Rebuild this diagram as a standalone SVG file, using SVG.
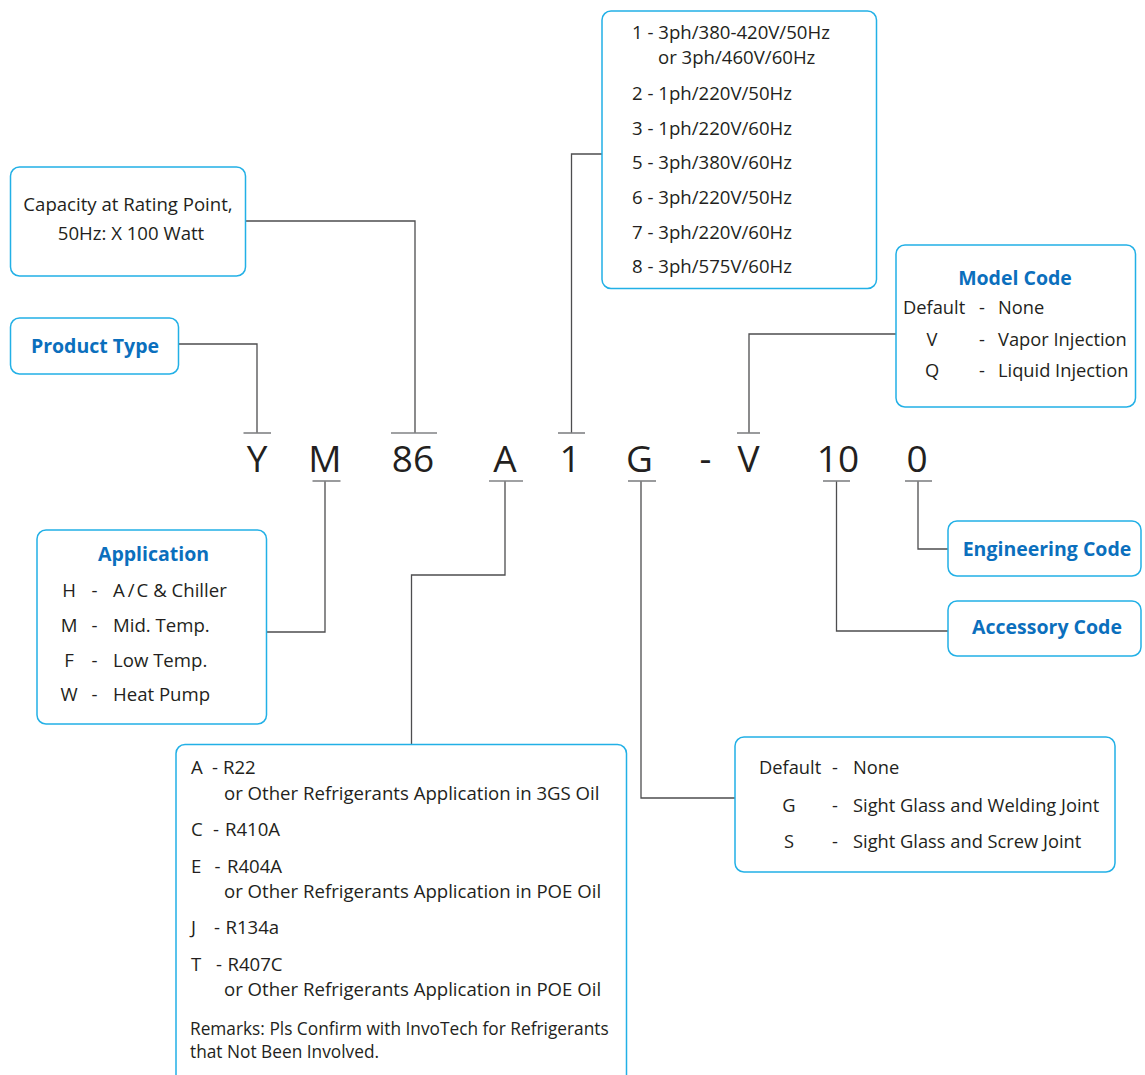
<svg xmlns="http://www.w3.org/2000/svg" width="1145" height="1075" viewBox="0 0 1145 1075">
<style>
.box{fill:#fff;stroke:#22b0e6;stroke-width:1.5}
.t{font-family:"Open Sans","Noto Sans",sans-serif;font-size:18.6px;fill:#231f20}
.n{font-size:18.3px}
.s{font-family:"Open Sans","Noto Sans",sans-serif;font-size:17.3px;fill:#231f20}
.h{font-family:"Open Sans","Noto Sans",sans-serif;font-size:19.5px;font-weight:bold;fill:#0b6fbd}
.m{text-anchor:middle}
.code{font-family:"Open Sans","Noto Sans",sans-serif;font-size:37px;fill:#231f20;text-anchor:middle}
.ln{fill:none;stroke:#4d4d4f;stroke-width:1.3}
.tk{fill:none;stroke:#808285;stroke-width:1.6}
</style>
<rect width="1145" height="1075" fill="#fff"/>
<g id="connectors">
<path class="ln" d="M245,221 H415 V433"/><path class="tk" d="M391,433 H437"/>
<path class="ln" d="M178,344 H257 V433"/><path class="tk" d="M243.5,433 H271"/>
<path class="ln" d="M602,154 H571.5 V433"/><path class="tk" d="M558,433 H585"/>
<path class="ln" d="M896,334 H749 V433"/><path class="tk" d="M737,433 H760"/>
<path class="ln" d="M267,632 H325 V481"/><path class="tk" d="M312.5,481 H340.5"/>
<path class="ln" d="M505,481 V575 H411.5 V744"/><path class="tk" d="M489,481 H523"/>
<path class="ln" d="M641,481 V798 H735"/><path class="tk" d="M628,481 H656"/>
<path class="ln" d="M836.5,481 V631 H948"/><path class="tk" d="M823,481 H850"/>
<path class="ln" d="M918,481 V549 H948"/><path class="tk" d="M905,481 H932"/>
</g>
<g id="model-number">
<text class="code" x="257" y="472">Y</text>
<text class="code" x="325" y="472">M</text>
<text class="code" x="413" y="472">86</text>
<text class="code" x="505" y="472">A</text>
<text class="code" x="570" y="472">1</text>
<text class="code" x="639.5" y="472">G</text>
<text class="code" x="705.5" y="472">-</text>
<text class="code" x="748.5" y="472">V</text>
<text class="code" x="838" y="472">10</text>
<text class="code" x="917" y="472">0</text>
</g>
<g id="capacity">
<rect class="box" x="10.5" y="167" width="235" height="109" rx="9"/>
<text class="t m" x="128" y="211">Capacity at Rating Point,</text>
<text class="t m" x="131" y="240">50Hz: X 100 Watt</text>
</g>
<g id="product-type">
<rect class="box" x="10.5" y="318" width="168" height="56" rx="9"/>
<text class="h m" x="95" y="353">Product Type</text>
</g>
<g id="voltage">
<rect class="box" x="602" y="11" width="274.5" height="277.5" rx="9"/>
<text class="t" x="632" y="39">1 - 3ph/380-420V/50Hz</text>
<text class="t" x="658" y="64">or 3ph/460V/60Hz</text>
<text class="t" x="632" y="100">2 - 1ph/220V/50Hz</text>
<text class="t" x="632" y="135">3 - 1ph/220V/60Hz</text>
<text class="t" x="632" y="169">5 - 3ph/380V/60Hz</text>
<text class="t" x="632" y="204">6 - 3ph/220V/50Hz</text>
<text class="t" x="632" y="239">7 - 3ph/220V/60Hz</text>
<text class="t" x="632" y="273">8 - 3ph/575V/60Hz</text>
</g>
<g id="model-code">
<rect class="box" x="896" y="245" width="239.5" height="162" rx="9"/>
<text class="h m" x="1015" y="285">Model Code</text>
<text class="t n" x="903" y="314">Default</text>
<text class="t n m" x="982" y="314">-</text>
<text class="t n" x="998" y="314">None</text>
<text class="t n m" x="932" y="346">V</text>
<text class="t n m" x="982" y="346">-</text>
<text class="t n" x="998" y="346">Vapor Injection</text>
<text class="t n m" x="932" y="377">Q</text>
<text class="t n m" x="982" y="377">-</text>
<text class="t n" x="998" y="377">Liquid Injection</text>
</g>
<g id="application">
<rect class="box" x="37" y="530" width="229.5" height="194" rx="9"/>
<text class="h m" x="153.5" y="560.5">Application</text>
<text class="t m" x="69" y="597">H</text><text class="t m" x="94.5" y="597">-</text><text class="t" x="113" y="597">A<tspan dx="3">/</tspan><tspan dx="2">C &amp; Chiller</tspan></text>
<text class="t m" x="69" y="632">M</text><text class="t m" x="94.5" y="632">-</text><text class="t" x="113" y="632">Mid. Temp.</text>
<text class="t m" x="69" y="666.5">F</text><text class="t m" x="94.5" y="666.5">-</text><text class="t" x="113" y="666.5">Low Temp.</text>
<text class="t m" x="69" y="701">W</text><text class="t m" x="94.5" y="701">-</text><text class="t" x="113" y="701">Heat Pump</text>
</g>
<g id="engineering-code">
<rect class="box" x="948" y="521" width="193" height="55" rx="9"/>
<text class="h m" x="1047" y="555.5">Engineering Code</text>
</g>
<g id="accessory-code">
<rect class="box" x="948" y="601" width="193" height="55" rx="9"/>
<text class="h m" x="1047" y="634">Accessory Code</text>
</g>
<g id="refrigerant">
<rect class="box" x="176" y="744.5" width="450.5" height="380" rx="9"/>
<text class="t" x="191" y="774">A</text><text class="t m" x="215" y="774">-</text><text class="t" x="223" y="774">R22</text>
<text class="t" x="224" y="800">or Other Refrigerants Application in 3GS Oil</text>
<text class="t" x="191" y="836">C</text><text class="t m" x="216" y="836">-</text><text class="t" x="225" y="836">R410A</text>
<text class="t" x="191" y="872.5">E</text><text class="t m" x="217.5" y="872.5">-</text><text class="t" x="227" y="872.5">R404A</text>
<text class="t" x="224" y="897.5">or Other Refrigerants Application in POE Oil</text>
<text class="t" x="191" y="934">J</text><text class="t m" x="217" y="934">-</text><text class="t" x="225.5" y="934">R134a</text>
<text class="t" x="191" y="970.5">T</text><text class="t m" x="219" y="970.5">-</text><text class="t" x="227.5" y="970.5">R407C</text>
<text class="t" x="224" y="996">or Other Refrigerants Application in POE Oil</text>
<text class="s" x="190" y="1035">Remarks: Pls Confirm with InvoTech for Refrigerants</text>
<text class="s" x="190" y="1058">that Not Been Involved.</text>
</g>
<g id="fittings">
<rect class="box" x="735" y="737" width="380" height="135" rx="9"/>
<text class="t n" x="759" y="774">Default</text><text class="t n m" x="835" y="774">-</text><text class="t n" x="853" y="774">None</text>
<text class="t n m" x="789" y="811.5">G</text><text class="t n m" x="835" y="811.5">-</text><text class="t n" x="853" y="811.5">Sight Glass and Welding Joint</text>
<text class="t n m" x="789" y="848">S</text><text class="t n m" x="835" y="848">-</text><text class="t n" x="853" y="848">Sight Glass and Screw Joint</text>
</g>
</svg>
